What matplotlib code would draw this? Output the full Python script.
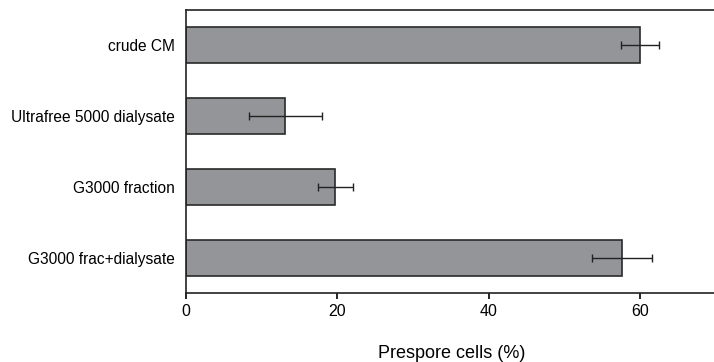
import matplotlib
matplotlib.use("Agg")
import matplotlib.pyplot as plt

categories = ["crude CM", "Ultrafree 5000 dialysate", "G3000 fraction", "G3000 frac+dialysate"]
values = [60.0, 13.1, 19.7, 57.6]
errors = [2.5, 4.8, 2.3, 4.0]
xticks = [0, 20, 40, 60]

plt.rcParams['font.family'] = ['Liberation Sans', 'DejaVu Sans']

fig = plt.figure(figsize=(7.14, 3.62), dpi=100)
ax = fig.add_axes([186/714, 69/362, 530/714, 283/362])

ypos = list(range(len(categories)))
ax.barh(ypos, values, height=0.51, color='#939598', edgecolor='#2a2a2a', linewidth=1.2,
        xerr=errors, error_kw=dict(ecolor='#222222', elinewidth=1.0, capsize=3, capthick=1.0))

ax.set_ylim(3.5, -0.5)
ax.set_xlim(0, 70)
ax.set_yticks(ypos)
ax.set_yticklabels(categories, fontsize=11.2)
ax.tick_params(axis='y', length=0, pad=8)
ax.set_xticks(xticks)
ax.set_xticklabels([str(t) for t in xticks], fontsize=11.5)
ax.tick_params(axis='x', length=4, width=1.2, pad=4)
fig.text(452/714, 4.5/362, "Prespore cells (%)", fontsize=13, ha='center', va='baseline')

for s in ['left', 'bottom', 'top']:
    ax.spines[s].set_linewidth(1.2)
    ax.spines[s].set_color('#222222')
ax.spines['right'].set_visible(False)

fig.savefig("out.png", dpi=100)
